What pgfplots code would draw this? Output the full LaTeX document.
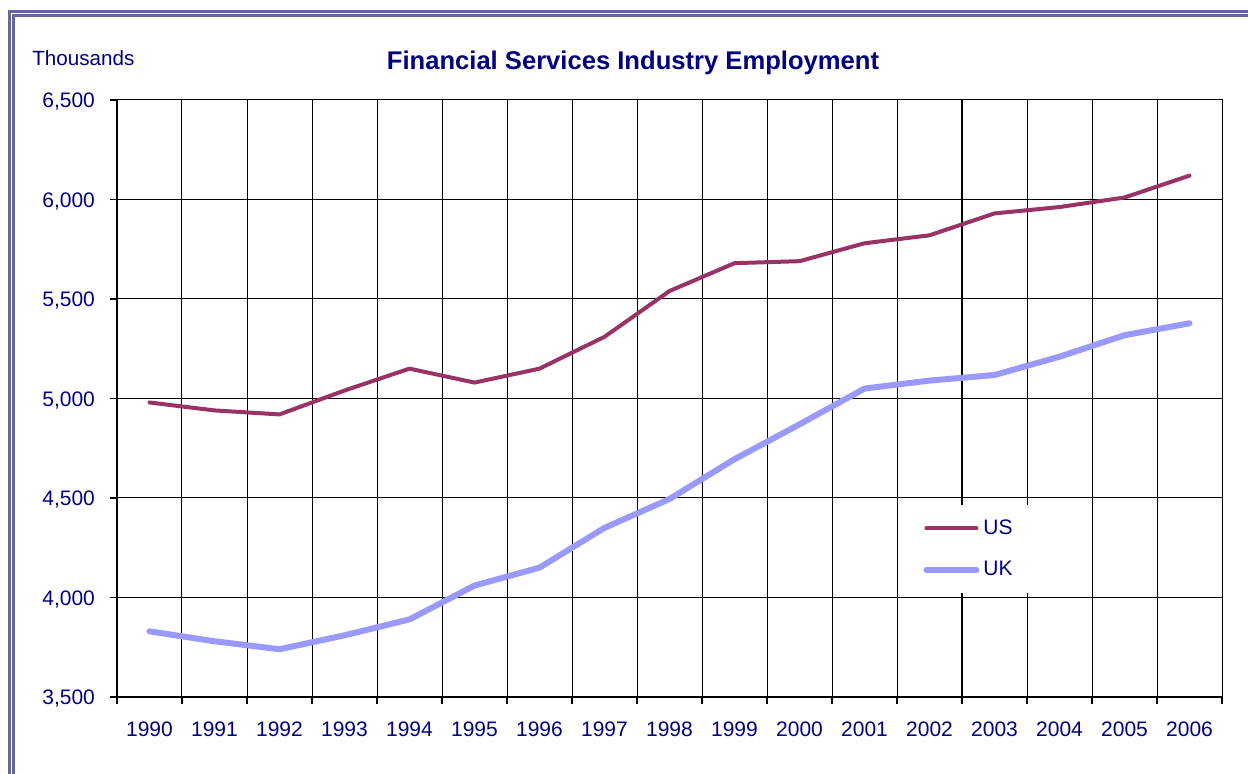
\documentclass[border=0pt]{standalone}
\usepackage{fontspec}
\setmainfont{Liberation Sans}
\usepackage{pgfplots}
\pgfplotsset{compat=1.18}
\definecolor{navy}{RGB}{0,0,128}
\definecolor{usc}{RGB}{153,51,102}
\definecolor{ukc}{RGB}{153,153,255}
\definecolor{framec}{RGB}{102,102,153}
\begin{document}
\begin{tikzpicture}
\useasboundingbox (0,0) rectangle (624pt,387pt);
\fill[white] (0,0) rectangle (624pt,387pt);
\draw[framec, line width=1.4pt] (4.75pt,0) -- (4.75pt,381.3pt) -- (624pt,381.3pt);
\draw[framec, line width=1.4pt] (6.75pt,0) -- (6.75pt,379.3pt) -- (624pt,379.3pt);
\node[anchor=base west, inner sep=0, text=navy, font=\fontsize{10.3}{12}\selectfont] at (16pt,354pt) {Thousands};
\node[anchor=base, inner sep=0, text=navy, font=\bfseries\fontsize{12.8}{15}\selectfont] at (316.5pt,352pt) {Financial Services Industry Employment};
\begin{axis}[name=ax, at={(58.5pt,38.5pt)}, anchor=south west, scale only axis,
  width=552.5pt, height=298.5pt,
  xmin=-0.5, xmax=16.5, ymin=3500, ymax=6500,
  xtick={-0.5,0.5,...,16.5},
  xticklabels={1990,1991,1992,1993,1994,1995,1996,1997,1998,1999,2000,2001,2002,2003,2004,2005,2006},
  x tick label as interval,
  ytick={3500,4000,...,6500},
  grid=major, grid style={black, line width=0.5pt},
  axis line style={black, line width=0.5pt},
  tick align=outside, tick pos=left, major tick length=3.5pt,
  tick style={black, line width=0.7pt},
  ticklabel style={font=\fontsize{10.5}{12}\selectfont, text=navy},
  xticklabel style={yshift=-5.5pt},
  yticklabel style={xshift=-4pt, yshift=-1pt},
  /pgf/number format/1000 sep={,},
  /pgf/number format/assume math mode=true,
  clip mode=individual,
  legend cell align=left,
  legend image code/.code={\draw[#1, line cap=round] (0pt,0pt) -- (25pt,0pt);},
  legend style={at={(0.7086,0.3216)}, anchor=north west, draw=none, fill=white,
    font=\fontsize{10.5}{12}\selectfont, text=navy, inner xsep=11.5pt, inner ysep=5pt,
    row sep=8pt},
]
\draw[black, line width=1.1pt] (axis cs:12.5,3500) -- (axis cs:12.5,6500);
\addplot[usc, line width=2pt, line cap=round, line join=round] coordinates {
(0,4980) (1,4940) (2,4920) (3,5040) (4,5150) (5,5080) (6,5150) (7,5310) (8,5540)
(9,5680) (10,5690) (11,5780) (12,5820) (13,5930) (14,5962) (15,6010) (16,6120)};
\addlegendentry{US}
\addplot[ukc, line width=3pt, line cap=round, line join=round] coordinates {
(0,3830) (1,3780) (2,3740) (3,3810) (4,3890) (5,4060) (6,4150) (7,4350) (8,4495)
(9,4695) (10,4870) (11,5050) (12,5090) (13,5118) (14,5210) (15,5318) (16,5378)};
\addlegendentry{UK}
\end{axis}
\draw[black, line width=1pt] (ax.north west) -- (ax.south west) -- (ax.south east);
\end{tikzpicture}
\end{document}
